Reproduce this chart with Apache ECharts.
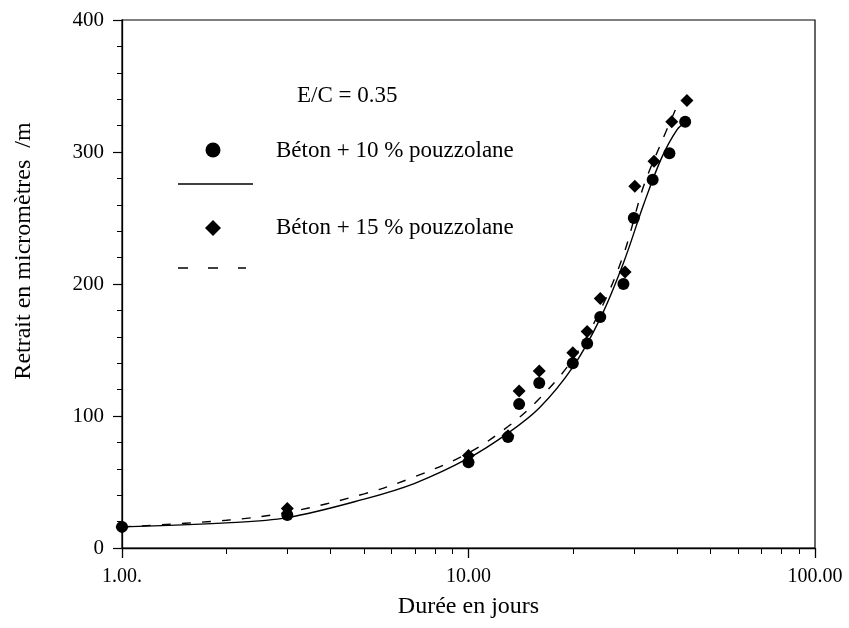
<!DOCTYPE html>
<html>
<head>
<meta charset="utf-8">
<script src="https://cdn.jsdelivr.net/npm/echarts@6/dist/echarts.min.js"></script>
<style>
html,body{margin:0;padding:0;background:#fff;}
#chart{width:849px;height:628px;}
</style>
</head>
<body>
<div id="chart"></div>
<script>
// ---- data ----
const days10 = [1, 3, 10, 13, 14, 16, 20, 22, 24, 28, 30, 34, 38, 42.2];
const shrink10 = [16, 25, 65, 84, 109, 125, 140, 155, 175, 200, 250, 279, 299, 323];
const days15 = [1, 3, 10, 13, 14, 16, 20, 22, 24, 28.3, 30.2, 34.3, 38.6, 42.7];
const shrink15 = [16, 30, 70, 85, 119, 134, 148, 164, 189, 209, 274, 293, 323, 339];

const fitDays10 = [1, 2, 3, 5, 7, 10, 13, 16, 20, 24, 28, 32, 36, 40, 42.3];
const fit10 = [16, 19, 23, 37, 49, 68, 87, 106, 137, 174, 216, 260, 295, 317, 322];
const fitDays15 = [1, 2, 3, 5, 7, 10, 13, 16, 20, 24, 28, 32, 36, 39.7];
const fit15 = [16, 21, 27, 41, 54, 72, 92, 113, 143, 180, 222, 274, 307, 333];

const xMajorTicks = [1, 10, 100];
const xTickLabels = ['1.00.', '10.00', '100.00'];
const xMinorTicks = [2, 3, 4, 5, 6, 7, 8, 9, 20, 30, 40, 50, 60, 70, 80, 90];

const title = 'E/C = 0.35';
const name10 = 'Béton + 10 % pouzzolane';
const name15 = 'Béton + 15 % pouzzolane';
const xName = 'Durée en jours';
const yName = 'Retrait en micromètres  /m';

const FONT = '"Liberation Serif", "Times New Roman", serif';

function pairs(xs, ys) { return xs.map((x, i) => [x, ys[i]]); }

const chart = echarts.init(document.getElementById('chart'), null, {renderer: 'canvas'});

const option = {
  backgroundColor: '#fff',
  animation: false,
  grid: {
    left: 122, right: 34, top: 20, bottom: 80,
    show: true, borderColor: '#000', borderWidth: 1.2, backgroundColor: 'transparent'
  },
  xAxis: [
    {
      type: 'log', logBase: 10, min: 1, max: 100,
      position: 'bottom',
      axisLine: {onZero: false, lineStyle: {color: '#000', width: 1.3}},
      axisTick: {show: true, inside: false, length: 10, customValues: xMajorTicks, lineStyle: {color: '#000', width: 1.3}},
      minorTick: {show: false},
      splitLine: {show: false},
      axisLabel: {
        color: '#000', fontFamily: FONT, fontSize: 20, margin: 19,
        customValues: xMajorTicks,
        formatter: function (v) {
          const i = xMajorTicks.findIndex(t => Math.abs(t - v) < 1e-6);
          return i >= 0 ? xTickLabels[i] : '';
        }
      },
      name: xName, nameLocation: 'middle', nameGap: 47,
      nameTextStyle: {color: '#000', fontFamily: FONT, fontSize: 24}
    },
    {
      type: 'log', logBase: 10, min: 1, max: 100,
      position: 'bottom',
      axisLine: {show: false, onZero: false},
      axisTick: {show: true, inside: false, length: 6, customValues: xMinorTicks, lineStyle: {color: '#000', width: 1}},
      axisLabel: {show: false},
      splitLine: {show: false}
    }
  ],
  yAxis: {
    type: 'value', min: 0, max: 400, interval: 100,
    axisLine: {show: true, lineStyle: {color: '#000', width: 1.3}},
    axisTick: {show: true, inside: false, length: 9, lineStyle: {color: '#000', width: 1.2}},
    minorTick: {show: true, splitNumber: 5, length: 5, lineStyle: {color: '#000', width: 1}},
    splitLine: {show: false},
    axisLabel: {color: '#000', fontFamily: FONT, fontSize: 21, margin: 18},
    name: yName, nameLocation: 'middle', nameGap: 86,
    nameTextStyle: {color: '#000', fontFamily: FONT, fontSize: 24, padding: [0, 0, 0, 66]}
  },
  series: [
    {
      name: name10 + ' (courbe)', type: 'line', xAxisIndex: 0,
      data: pairs(fitDays10, fit10), smooth: 0.35, showSymbol: false, symbol: 'none',
      lineStyle: {color: '#000', width: 1.4, type: 'solid'}, z: 2
    },
    {
      name: name15 + ' (courbe)', type: 'line', xAxisIndex: 0,
      data: pairs(fitDays15, fit15), smooth: 0.35, showSymbol: false, symbol: 'none',
      lineStyle: {color: '#000', width: 1.4, type: [9, 11]}, z: 2
    },
    {
      name: name10, type: 'scatter', xAxisIndex: 0,
      data: pairs(days10, shrink10), symbol: 'circle', symbolSize: 12,
      itemStyle: {color: '#000', opacity: 1}, z: 3
    },
    {
      name: name15, type: 'scatter', xAxisIndex: 0,
      data: pairs(days15, shrink15), symbol: 'diamond', symbolSize: 13,
      itemStyle: {color: '#000', opacity: 1}, z: 3
    }
  ],
  graphic: [
    {type: 'text', x: 297, y: 96, style: {text: title, font: '23px ' + FONT, fill: '#000', textVerticalAlign: 'middle'}},
    {type: 'circle', shape: {cx: 213, cy: 150, r: 7.5}, style: {fill: '#000'}},
    {type: 'text', x: 276, y: 151, style: {text: name10, font: '23px ' + FONT, fill: '#000', textVerticalAlign: 'middle'}},
    {type: 'line', shape: {x1: 178, y1: 184, x2: 253, y2: 184}, style: {stroke: '#000', lineWidth: 1.5}},
    {type: 'polygon', shape: {points: [[213, 220], [221, 228], [213, 236], [205, 228]]}, style: {fill: '#000'}},
    {type: 'text', x: 276, y: 228, style: {text: name15, font: '23px ' + FONT, fill: '#000', textVerticalAlign: 'middle'}},
    {type: 'line', shape: {x1: 178, y1: 268, x2: 246, y2: 268}, style: {stroke: '#000', lineWidth: 1.3, lineDash: [10, 20]}}
  ]
};

chart.setOption(option);
</script>
</body>
</html>
